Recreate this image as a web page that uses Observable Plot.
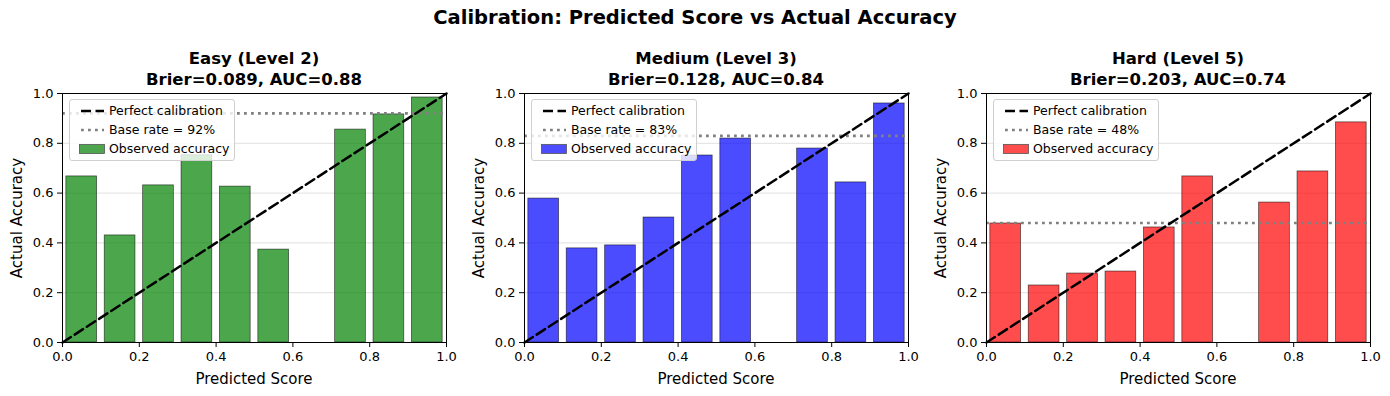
<!DOCTYPE html>
<html>
<head>
<meta charset="utf-8">
<script src="https://cdn.jsdelivr.net/npm/d3@7"></script>
<script src="https://cdn.jsdelivr.net/npm/@observablehq/plot@0.6"></script>
<style>
  body { margin: 0; background: #fff; font-family: "DejaVu Sans", sans-serif; }
  #root { position: relative; width: 1390px; height: 396px; overflow: hidden; }
  #root svg text { font-size: 13px; font-family: "DejaVu Sans", sans-serif; fill: black; }
  .abs { position: absolute; }
  .suptitle { left: 0; width: 1390px; top: 7px; text-align: center; font-weight: bold; font-size: 19.5px; line-height: 22px; }
  .ptitle { text-align: center; font-weight: bold; font-size: 16.5px; line-height: 21px; width: 400px; }
  .xlabel { text-align: center; font-size: 15px; line-height: 18px; width: 300px; }
  .ylabel { text-align: center; font-size: 15px; line-height: 18px; width: 300px; transform: rotate(-90deg); }
  .legend { background: rgba(255,255,255,0.8); border: 1px solid #d0d0d0; border-radius: 3px; box-sizing: border-box; width: 166px; height: 62px; font-size: 12.5px; }
  .legend .row { position: absolute; left: 0; height: 18px; line-height: 18px; white-space: nowrap; }
  .legend svg { position: absolute; left: 4px; top: 0; }
  .legend span { position: absolute; left: 39px; top: 0; }
</style>
</head>
<body>
<div id="root"></div>
<script>
// ---- data ----
const binCenters = [0.05, 0.15, 0.25, 0.35, 0.45, 0.55, 0.65, 0.75, 0.85, 0.95];
const easyAcc   = [0.667, 0.430, 0.631, 0.752, 0.626, 0.373, null, 0.855, 0.916, 0.984];
const mediumAcc = [0.578, 0.378, 0.390, 0.502, 0.751, 0.819, null, 0.779, 0.643, 0.960];
const hardAcc   = [0.478, 0.229, 0.277, 0.285, 0.462, 0.667, null, 0.562, 0.687, 0.884];
const baseRates = [0.92, 0.83, 0.48];
const panelTitles = ["Easy (Level 2)", "Medium (Level 3)", "Hard (Level 5)"];
const brierScores = ["0.089", "0.128", "0.203"];
const aucScores = ["0.88", "0.84", "0.74"];
const panelColors = ["green", "blue", "red"];
const tickValues = [0, 0.2, 0.4, 0.6, 0.8, 1.0];
const diagonal = [0, 1];
const binWidth = 0.08;
const suptitle = "Calibration: Predicted Score vs Actual Accuracy";
const xLabel = "Predicted Score";
const yLabel = "Actual Accuracy";
const legendLabels = ["Perfect calibration", "Base rate = ", "Observed accuracy"];

const seriesList = [easyAcc, mediumAcc, hardAcc];

// ---- layout ----
const root = document.getElementById("root");
const plotLefts = [62, 524, 986];
const plotW = 384, plotTop = 93, plotH = 249;
const mL = 62, mR = 10, mT = 8, mB = 54;

const st = document.createElement("div");
st.className = "abs suptitle";
st.textContent = suptitle;
root.appendChild(st);

const fillRGB = {green: "rgb(77,166,77)", blue: "rgb(77,77,255)", red: "rgb(255,77,77)"};

seriesList.forEach((vals, i) => {
  const data = binCenters.map((c, j) => ({c, v: vals[j]})).filter(d => d.v != null);
  const color = panelColors[i];
  const chart = Plot.plot({
    width: mL + plotW + mR,
    height: mT + plotH + mB,
    marginLeft: mL, marginRight: mR, marginTop: mT, marginBottom: mB,
    style: {fontFamily: "DejaVu Sans, sans-serif", fontSize: "13px", background: "transparent", overflow: "visible"},
    x: {domain: [0, 1]},
    y: {domain: [0, 1]},
    marks: [
      Plot.gridY(tickValues, {stroke: "#e0e0e0", strokeOpacity: 1, strokeWidth: 1}),
      Plot.rectY(data, {x1: d => d.c - binWidth / 2, x2: d => d.c + binWidth / 2, y1: 0, y2: "v",
        fill: color, fillOpacity: 0.7, stroke: "black", strokeOpacity: 0.6, strokeWidth: 0.8}),
      Plot.ruleY([baseRates[i]], {stroke: "gray", strokeWidth: 2.6, strokeDasharray: "2.8,4.2"}),
      Plot.line(diagonal, {x: d => d, y: d => d, stroke: "black", strokeWidth: 2.5, strokeDasharray: "10,4.5"}),
      Plot.frame({stroke: "black", strokeWidth: 1}),
      Plot.axisX(tickValues, {tickFormat: d3.format(".1f"), tickSize: 5, tickPadding: 4, label: null, fontSize: 13}),
      Plot.axisY(tickValues, {tickFormat: d3.format(".1f"), tickSize: 5, tickPadding: 4, label: null, fontSize: 13})
    ]
  });
  chart.classList.add("abs");
  chart.style.left = (plotLefts[i] - mL) + "px";
  chart.style.top = (plotTop - mT) + "px";
  root.appendChild(chart);

  const cx = plotLefts[i] + plotW / 2;
  const t = document.createElement("div");
  t.className = "abs ptitle";
  t.style.left = (cx - 200) + "px";
  t.style.top = "48px";
  t.innerHTML = panelTitles[i] + "<br>Brier=" + brierScores[i] + ", AUC=" + aucScores[i];
  root.appendChild(t);

  const xl = document.createElement("div");
  xl.className = "abs xlabel";
  xl.style.left = (cx - 150) + "px";
  xl.style.top = "370px";
  xl.textContent = xLabel;
  root.appendChild(xl);

  const yl = document.createElement("div");
  yl.className = "abs ylabel";
  yl.style.left = (plotLefts[i] - 45 - 150) + "px";
  yl.style.top = (plotTop + plotH / 2 - 9) + "px";
  yl.textContent = yLabel;
  root.appendChild(yl);

  const lg = document.createElement("div");
  lg.className = "abs legend";
  lg.style.left = (plotLefts[i] + 7) + "px";
  lg.style.top = "99px";
  const pct = Math.round(baseRates[i] * 100) + "%";
  lg.innerHTML =
    `<div class="row" style="top:2px;width:164px"><svg width="30" height="18"><line x1="7" y1="9" x2="32" y2="9" stroke="black" stroke-width="2.5" stroke-dasharray="10,4.5"/></svg><span>${legendLabels[0]}</span></div>` +
    `<div class="row" style="top:21px;width:164px"><svg width="30" height="18"><line x1="7" y1="9" x2="32" y2="9" stroke="gray" stroke-width="2.6" stroke-dasharray="2.8,4.2"/></svg><span>${legendLabels[1]}${pct}</span></div>` +
    `<div class="row" style="top:40px;width:164px"><svg width="32" height="18"><rect x="5.5" y="4.5" width="25" height="9" fill="${fillRGB[color]}" stroke="#555" stroke-width="0.8"/></svg><span>${legendLabels[2]}</span></div>`;
  root.appendChild(lg);
});
</script>
</body>
</html>
